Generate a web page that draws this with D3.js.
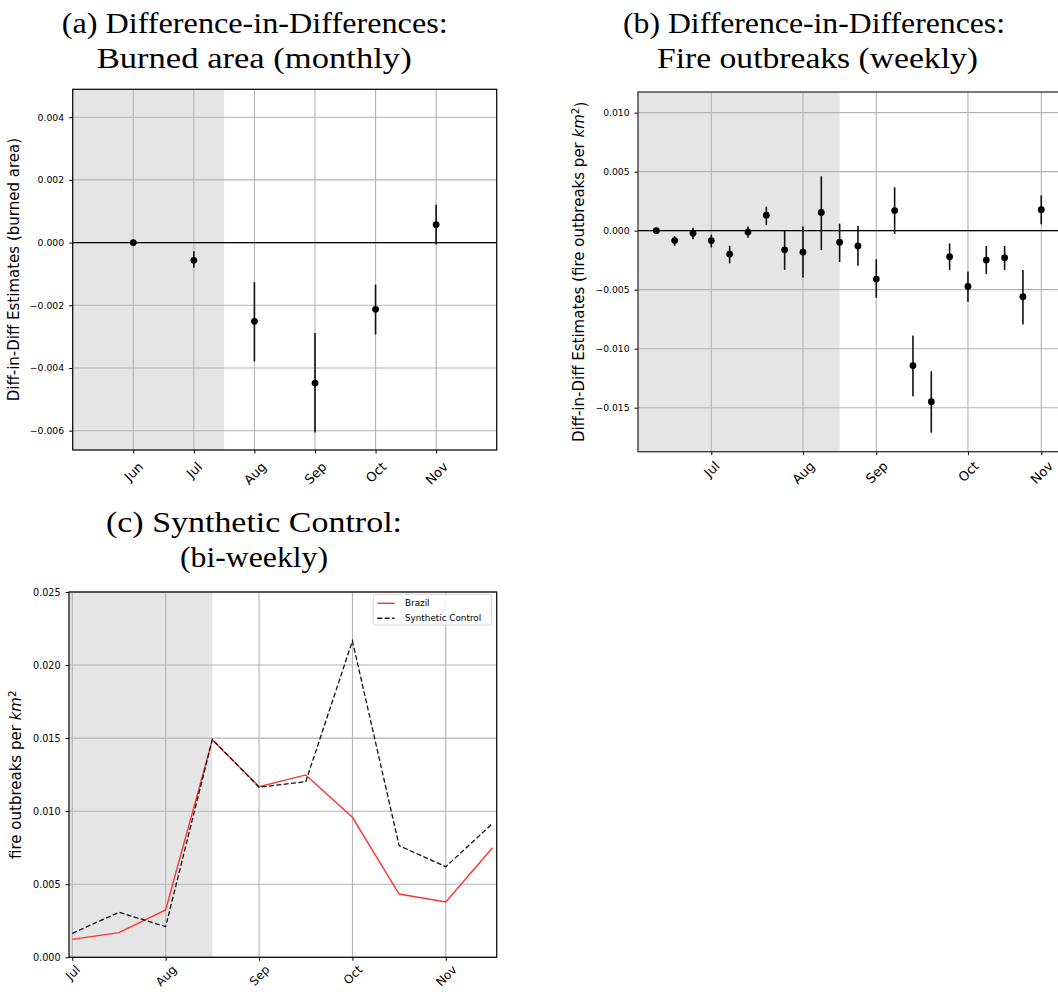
<!DOCTYPE html>
<html>
<head>
<meta charset="utf-8">
<script src="https://cdn.jsdelivr.net/npm/d3@7"></script>
<style>
body{margin:0;background:#fff;}
svg{display:block;}
</style>
</head>
<body>
<script>
//panel (a): monthly burned area diff-in-diff
var monthsA = ["Jun", "Jul", "Aug", "Sep", "Oct", "Nov"];
var areaEst = [0, -0.000565, -0.00251, -0.00448, -0.00213, 0.000574];
var areaLo  = [0, -0.0008, -0.00379, -0.00606, -0.00293, -0.00006];
var areaHi  = [0, -0.00028, -0.00126, -0.00288, -0.00134, 0.00121];
var areaYTicks = [-0.006, -0.004, -0.002, 0, 0.002, 0.004];

//panel (b): weekly fire outbreaks diff-in-diff (22 weeks)
var fireEst = [0, -0.00084, -0.00022, -0.00084, -0.00198, -0.00011, 0.00131, -0.00162, -0.00182, 0.00154, -0.00098,
               -0.0013, -0.0041, 0.0017, -0.01143, -0.01449, -0.00221, -0.00473, -0.00249, -0.00229, -0.0056, 0.00178];
var fireHi  = [0, -0.00047, 0.00025, -0.00034, -0.00128, 0.00036, 0.00204, 0, 0.00036, 0.00461, 0.00059,
               0.0004, -0.00243, 0.00368, -0.00889, -0.01191, -0.00108, -0.00345, -0.0013, -0.0013, -0.00334, 0.003];
var fireLo  = [0, -0.00128, -0.00073, -0.00142, -0.00277, -0.00061, 0.00047, -0.00332, -0.00397, -0.00165, -0.00265,
               -0.00297, -0.00569, -0.00028, -0.01404, -0.01712, -0.00334, -0.00603, -0.00368, -0.00334, -0.00795, 0.00054];
var weekTicks = [3, 8, 12, 17, 21];
var weekTickLabels = ["Jul", "Aug", "Sep", "Oct", "Nov"];
var fireYTicks = [-0.015, -0.010, -0.005, 0, 0.005, 0.010];

//panel (c): bi-weekly synthetic control
var brazil    = [0.00123, 0.00169, 0.00324, 0.01487, 0.01168, 0.01248, 0.00958, 0.00433, 0.00379, 0.0075];
var synthetic = [0.00164, 0.00308, 0.0021, 0.01492, 0.01164, 0.01202, 0.02165, 0.00764, 0.0062, 0.00915];
var biTicks = [0, 2, 4, 6, 8];
var biTickLabels = ["Jul", "Aug", "Sep", "Oct", "Nov"];
var synthYTicks = [0, 0.005, 0.010, 0.015, 0.020, 0.025];

var svg = d3.select("body").append("svg")
    .attr("width", 1058)
    .attr("height", 992);

var fmt = d3.format(".3f");

//title lines in a latex-ish serif
function title(lines){
    lines.forEach(function(l){
        svg.append("text")
            .attr("x", l.x).attr("y", l.y)
            .attr("textLength", l.w)
            .attr("lengthAdjust", "spacingAndGlyphs")
            .style("font-family", "'Liberation Serif', serif")
            .style("font-size", "29px")
            .style("fill", "#000")
            .text(l.t);
    });
}

//common frame: shade, grid, axes, label
function frame(x, y, o){
    var g = svg.append("g");
    var x0 = x.range()[0], x1 = x.range()[1], y0 = y.range()[1], y1 = y.range()[0];

    g.append("rect")
        .attr("x", x(o.shade[0])).attr("y", y0)
        .attr("width", x(o.shade[1]) - x(o.shade[0]))
        .attr("height", y1 - y0)
        .attr("fill", "#e5e5e5");

    //grid
    g.selectAll(".vgrid").data(o.xticks).enter().append("line")
        .attr("x1", function(d){ return x(d); }).attr("x2", function(d){ return x(d); })
        .attr("y1", y0).attr("y2", y1)
        .attr("stroke", "#b3b3b3").attr("stroke-width", 1.1);
    g.selectAll(".hgrid").data(o.yticks).enter().append("line")
        .attr("x1", x0).attr("x2", x1)
        .attr("y1", function(d){ return y(d); }).attr("y2", function(d){ return y(d); })
        .attr("stroke", "#b3b3b3").attr("stroke-width", 1.1);

    //y axis
    var ya = g.append("g")
        .attr("transform", "translate(" + x0 + ",0)")
        .call(d3.axisLeft(y).tickValues(o.yticks).tickFormat(fmt).tickSize(3.5).tickPadding(5).tickSizeOuter(0));
    ya.select(".domain").remove();
    ya.selectAll(".tick line").attr("stroke", "#000").attr("stroke-width", 1);
    ya.selectAll(".tick text")
        .style("font-family", "'DejaVu Sans', sans-serif")
        .style("font-size", o.yfs + "px")
        .style("fill", "#000");

    //x axis with rotated labels
    var xa = g.append("g")
        .attr("transform", "translate(0," + y1 + ")")
        .call(d3.axisBottom(x).tickValues(o.xticks)
            .tickFormat(function(d, i){ return o.xlabels[i]; })
            .tickSize(3.5).tickSizeOuter(0));
    xa.select(".domain").remove();
    xa.selectAll(".tick line").attr("stroke", "#000").attr("stroke-width", 1);
    var fs = o.xfs;
    xa.selectAll(".tick text").each(function(){
        var t = d3.select(this)
            .style("font-family", "'DejaVu Sans', sans-serif")
            .style("font-size", fs + "px")
            .style("fill", "#000")
            .style("text-anchor", "middle")
            .attr("x", 0).attr("y", 0).attr("dy", "0.35em");
        var w = this.getComputedTextLength();
        var c = o.xoff + (w + fs * 0.75) * 0.3536;
        t.attr("transform", "translate(0," + c + ") rotate(-45)");
    });

    //y label
    var lab = g.append("text")
        .attr("transform", "translate(" + o.labx + "," + ((y0 + y1) / 2) + ") rotate(-90)")
        .style("text-anchor", "middle")
        .style("font-family", "'DejaVu Sans', sans-serif")
        .style("font-size", "15px")
        .style("fill", "#000");
    o.label(lab);

    return g;
}

function kmLabel(pre, post){
    return function(t){
        t.append("tspan").text(pre);
        t.append("tspan").style("font-style", "italic").text("km");
        t.append("tspan").attr("dy", "-0.45em").style("font-size", "10.5px").text("2");
        if(post) t.append("tspan").attr("dy", "0.45em").text(post);
    };
}

function border(x, y, color){
    svg.append("rect")
        .attr("x", x.range()[0]).attr("y", y.range()[1])
        .attr("width", x.range()[1] - x.range()[0])
        .attr("height", y.range()[0] - y.range()[1])
        .attr("fill", "none")
        .attr("stroke", color).attr("stroke-width", 1.3);
}

function errDots(x, y, est, lo, hi){
    var g = svg.append("g");
    g.selectAll(".err").data(est).enter().append("line")
        .attr("x1", function(d, i){ return x(i); }).attr("x2", function(d, i){ return x(i); })
        .attr("y1", function(d, i){ return y(lo[i]); }).attr("y2", function(d, i){ return y(hi[i]); })
        .attr("stroke", "#111").attr("stroke-width", 1.6);
    g.selectAll(".dot").data(est).enter().append("circle")
        .attr("cx", function(d, i){ return x(i); })
        .attr("cy", function(d){ return y(d); })
        .attr("r", 3.4)
        .attr("fill", "#000");
}

function zeroLine(x, y){
    svg.append("line")
        .attr("x1", x.range()[0]).attr("x2", x.range()[1])
        .attr("y1", y(0)).attr("y2", y(0))
        .attr("stroke", "#000").attr("stroke-width", 1.3);
}

//---- panel (a)
title([
    {t: "(a) Difference-in-Differences:", x: 61.7, y: 33, w: 386},
    {t: "Burned area (monthly)", x: 96.7, y: 68, w: 315}
]);
var xA = d3.scaleLinear().domain([-1, 6]).range([72.7, 496.7]);
var yA = d3.scaleLinear().domain([-0.006616, 0.00489]).range([450, 89.3]);
frame(xA, yA, {
    shade: [-1, 1.5], xticks: d3.range(monthsA.length), xlabels: monthsA,
    yticks: areaYTicks, yfs: 9.3, xfs: 13, xoff: 11, labx: 19,
    label: function(t){ t.text("Diff-in-Diff Estimates (burned area)"); }
});
zeroLine(xA, yA);
errDots(xA, yA, areaEst, areaLo, areaHi);
border(xA, yA, "#111");

//---- panel (b)
title([
    {t: "(b) Difference-in-Differences:", x: 623, y: 33, w: 382},
    {t: "Fire outbreaks (weekly)", x: 657, y: 68, w: 321}
]);
var xB = d3.scaleLinear().domain([-1, 22]).range([638, 1059.6]);
var yB = d3.scaleLinear().domain([-0.01873, 0.01175]).range([451.7, 92]);
frame(xB, yB, {
    shade: [-1, 10], xticks: weekTicks, xlabels: weekTickLabels,
    yticks: fireYTicks, yfs: 9.2, xfs: 13, xoff: 8.5, labx: 584,
    label: kmLabel("Diff-in-Diff Estimates (fire outbreaks per ", ")")
});
zeroLine(xB, yB);
errDots(xB, yB, fireEst, fireLo, fireHi);
border(xB, yB, "#333");

//---- panel (c)
title([
    {t: "(c) Synthetic Control:", x: 106, y: 532, w: 296},
    {t: "(bi-weekly)", x: 180, y: 567, w: 148}
]);
var xC = d3.scaleLinear().domain([-0.07, 9.09]).range([69, 496.7]);
var yC = d3.scaleLinear().domain([0, 0.025]).range([957.3, 592]);
frame(xC, yC, {
    shade: [-0.07, 3], xticks: biTicks, xlabels: biTickLabels,
    yticks: synthYTicks, yfs: 9.6, xfs: 12, xoff: 7, labx: 21,
    label: kmLabel("fire outbreaks per ", null)
});

var line = d3.line()
    .x(function(d, i){ return xC(i); })
    .y(function(d){ return yC(d); });

svg.append("path").datum(brazil)
    .attr("d", line)
    .attr("fill", "none").attr("stroke", "#ff3333").attr("stroke-width", 1.4);
svg.append("path").datum(synthetic)
    .attr("d", line)
    .attr("fill", "none").attr("stroke", "#111").attr("stroke-width", 1.3)
    .attr("stroke-dasharray", "5,2.4");

//legend
var leg = svg.append("g");
leg.append("rect")
    .attr("x", 373.3).attr("y", 594.3).attr("width", 118.4).attr("height", 30.7)
    .attr("rx", 2.5)
    .attr("fill", "#fff").attr("fill-opacity", 0.8)
    .attr("stroke", "#d6d6d6").attr("stroke-width", 1);
var legItems = [
    {name: "Brazil", color: "#ff3333", dash: null},
    {name: "Synthetic Control", color: "#111", dash: "5,2.4"}
];
legItems.forEach(function(d, i){
    var yy = 603.3 + i * 15;
    leg.append("line")
        .attr("x1", 377.3).attr("x2", 394.5).attr("y1", yy).attr("y2", yy)
        .attr("stroke", d.color).attr("stroke-width", 1.4)
        .attr("stroke-dasharray", d.dash);
    leg.append("text")
        .attr("x", 405).attr("y", yy).attr("dy", "0.35em")
        .style("font-family", "'DejaVu Sans', sans-serif")
        .style("font-size", "8.8px")
        .style("fill", "#000")
        .text(d.name);
});

border(xC, yC, "#111");
</script>
</body>
</html>
